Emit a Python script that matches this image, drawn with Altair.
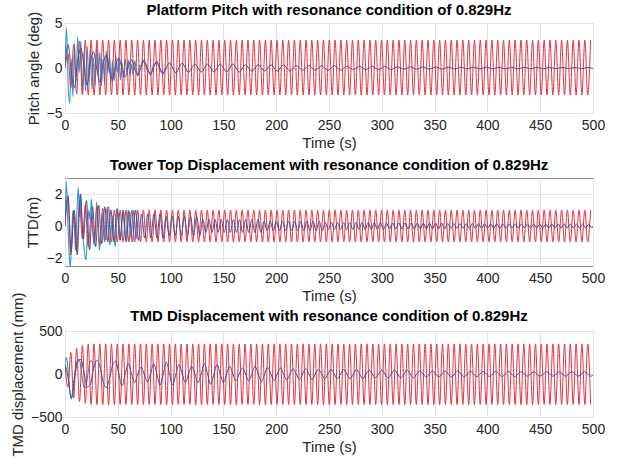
import altair as alt
import pandas as pd

# ---------------- data ----------------
# Each series is a list of successive extrema / samples on its own time step (s)
RED_STEP = 2.75

pitch_red = [0, 1.6, -2.2, 2.6, -2.9, 3.0, -3.0, 3.1] + [-3.0, 3.1] * 87
pitch_light_step = 1.5
pitch_light = [0, 4.4, -2.0, -3.9, 1.0, -3.2, 2.8, -1.5, 3.5, -0.5, 3.0, -2.8, 1.8, -2.6,
               2.4, -1.0, 2.2, -2.4, 1.2, -2.0, 2.3, -0.8, 1.8, -2.0, 1.0, -1.8, 1.9, -0.6,
               1.5, -1.7, 0.8, -1.5, 1.4, -0.5, 1.2, -1.3, 0.6, -1.1, 1.0, -0.4, 0.9, -0.9,
               0.4, -0.8, 0.8, -0.2, -0.9, 0.3, 0.2, 0.9, 0.7, 0.3, -0.3, -0.5, -0.8, -0.3,
               0.4, 0.5, 0.8, 0.2, -0.3, -0.5, -0.7, -0.2, 0.1]
pitch_dark_step = 3.0
pitch_dark = ([0.5, 2.6, -0.5, -2.2, 0.8, 2.2, 0.2, -1.9, 0.5, 1.8, 0.0, -1.6, 0.4, 1.4,
               -0.2, -1.3, 0.3, 1.1, -0.1, -1.0, 0.2, 0.9, -0.1, -0.8, 0.1, 0.75, 0.0, -0.7,
               0.1, 0.65, -0.05, -0.6, 0.05, 0.6, 0.0, -0.55, 0.05, 0.55, 0.0, -0.5]
              + [0.0, 0.45, 0.0, -0.45] * 4 + [0.0, 0.35, 0.0, -0.35] * 4
              + [0.0, 0.25, 0.0, -0.25] * 4 + [0.0, 0.18, 0.0, -0.18] * 4
              + [0.0, 0.13, 0.0, -0.13] * 4 + [0.0, 0.10, 0.0, -0.10] * 4
              + [0.0, 0.08, 0.0, -0.08] * 4 + [0.0, 0.06, 0.0, -0.06] * 4)

ttd_red = [0, 1.7, -1.8, 0.9, -1.6, 1.4, -0.8, 1.3, -1.3, 0.6, -1.0, 1.2, -1.2, 1.1,
           -0.9, 1.2] + [-1.0, 1.0] * 83
ttd_light_step = 1.25
ttd_light = [0, 2.8, 0.5, -1.5, -2.6, -0.8, 1.0, 0.2, -1.5, 0.8, 2.4, 0.6, 2.0, -0.2,
             -1.0, -1.8, -2.1, -0.3, 1.0, 0.4, 1.7, 0.2, -1.2, -0.5, 1.5, 0.3, -1.5, -0.6,
             0.8, -0.2, -1.0, 0.4, 1.2, -0.2, -1.2, -0.3, 0.6, -0.4, -1.3, 0.1, 0.9, 0.0,
             -0.8, 0.2, 0.9, -0.1, -0.9, 0.3, 1.0, 0.0, -0.7, 0.2, 1.0, 0.0, -0.8, 0.2, 0.8]
ttd_dark_step = 2.9
ttd_dark = ([0.3, 1.9, -1.6, 1.0, -1.8, 2.0, -0.8, 1.6, -1.5, 1.2, -1.3, 1.3, -1.1, 1.2,
             -1.0, 1.0, -1.0, 1.1, -0.9, 1.0, -1.0, 0.9, -1.0, 1.0, -0.9]
            + [0.75, -0.75] * 4 + [0.6, -0.6] * 6 + [0.4, -0.4] * 10 + [0.3, -0.3] * 10
            + [0.22, -0.22] * 10 + [0.18, -0.18] * 10 + [0.15, -0.15] * 10 + [0.12, -0.12] * 15)

tmd_red = [100, -150, 250, -280, 300, -320, 330, -340] + [350, -355] * 87
tmd_light_step = 1.5
tmd_light = [130, 190, 30, -200, -290, -180, -20, 100, 160, 170, 80, -60, -150, -160,
             -60, 70, 150, 150, 60]
tmd_dark_step = 3.0
tmd_dark = ([120, -50, -280, -60, 140, 170, 20, -150, -120, 60, 160, 90, -80, -160, -60, 100]
            + [150, 0, -140, 0, 120, 0, -100, 0, 80, 0, -90, 0, 120, 0, -130, 0]
            + [140, 0, -130, 0, 110, 0, -100, 0, 90, 0, -100, 0, 120, 0, -120, 0]
            + [110, 0, -100, 0, 90, 0, -80, 0, 70, 0, -80, 0, 90, 0, -90, 0]
            + [75, 0, -75, 0, 70, 0, -70, 0, 60, 0, -60, 0, 65, 0, -65, 0]
            + [55, 0, -55, 0] * 4 + [45, 0, -45, 0] * 4 + [35, 0, -35, 0] * 4
            + [30, 0, -30, 0] * 4 + [25, 0, -25, 0] * 6)

X_TICKS = list(range(0, 501, 50))

RED = "#e3323f"
LIGHT = "#2b9ad6"
DARK = "#4a4c93"
FONT = "Liberation Sans"


def frame(values, step):
    return pd.DataFrame({"t": [i * step for i in range(len(values))], "v": values})


def panel(title, ytitle, domain, yticks, height, light, light_step, red, dark, dark_step,
          ytp, toff):
    x = alt.X("t:Q", scale=alt.Scale(domain=[0, 500], nice=False, zero=False),
              axis=alt.Axis(values=X_TICKS, title="Time (s)", format="d"))
    y = alt.Y("v:Q", scale=alt.Scale(domain=domain, nice=False, zero=False),
              axis=alt.Axis(values=yticks, title=ytitle, titlePadding=ytp, format="d",
                            labelPadding=3))
    l1 = alt.Chart(frame(light, light_step)).mark_line(
        color=LIGHT, strokeWidth=1.1, clip=True, interpolate="monotone").encode(x=x, y=y)
    l2 = alt.Chart(frame(red, RED_STEP)).mark_line(
        color=RED, strokeWidth=1.0, clip=True, interpolate="monotone").encode(x=x, y=y)
    l3 = alt.Chart(frame(dark, dark_step)).mark_line(
        color=DARK, strokeWidth=1.0, clip=True, interpolate="monotone").encode(x=x, y=y)
    return alt.layer(l1, l2, l3).properties(
        width=528, height=height,
        title=alt.TitleParams(title, fontSize=15, fontWeight="bold", font=FONT, color="#000000",
                              anchor="middle", frame="group", offset=toff),
    )


p1 = panel("Platform Pitch with resonance condition of 0.829Hz", "Pitch angle (deg)",
           [-5, 5], [-5, 0, 5], 90, pitch_light, pitch_light_step, pitch_red,
           pitch_dark, pitch_dark_step, 5, -7)
p2 = panel("Tower Top Displacement with resonance condition of 0.829Hz", "TTD(m)",
           [-2.5, 3], [-2, 0, 2], 88, ttd_light, ttd_light_step, ttd_red,
           ttd_dark, ttd_dark_step, 6, 5)
p3 = panel("TMD Displacement with resonance condition of 0.829Hz", "TMD displacement (mm)",
           [-500, 500], [-500, 0, 500], 86, tmd_light, tmd_light_step, tmd_red,
           tmd_dark, tmd_dark_step, 5, -32)

chart = alt.vconcat(p1, p2, p3, spacing=65, bounds="flush").properties(
    padding={"left": 9, "top": 2, "right": 5, "bottom": 2},
    background="#ffffff",
).configure_view(
    stroke="#8c8c8c", strokeWidth=1
).configure_axis(
    labelFont=FONT, titleFont=FONT, labelFontSize=14, titleFontSize=15,
    labelColor="#262626", titleColor="#262626", titleFontWeight="normal",
    grid=True, gridColor="#e3e3e3", gridWidth=1, domain=False,
    ticks=False, tickSize=0, labelPadding=5, labelFlush=False,
).configure_axisX(titlePadding=3)

chart.save("out.html", embed_options={"renderer": "svg", "actions": False})
